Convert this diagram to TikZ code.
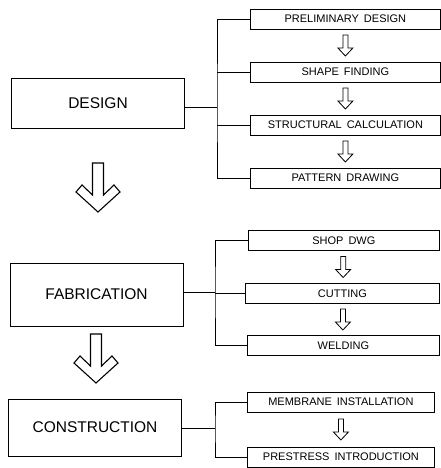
\documentclass[tikz,border=0pt]{standalone}
\usepackage{fontspec}
\setmainfont{Liberation Sans}
\usetikzlibrary{calc}
\newcommand\widespace{\spaceskip=5pt\relax}

\begin{document}
\begin{tikzpicture}[x=1pt, y=-1pt, line width=0.8pt,
            stage/.style = {draw, line width=1pt, minimum width=173pt,
                font=\fontsize{15.5}{18}\selectfont},
            task/.style = {draw, anchor=west, minimum height=20pt,
                inner sep=0pt, font=\fontsize{11}{13}\selectfont,
                execute at begin node=\widespace},
            smallarrow/.pic = {\draw (-2.5,-10.5) -- (-2.5,2.5) -- (-7.5,2.5) -- (0,10.5)
                -- (7.5,2.5) -- (2.5,2.5) -- (2.5,-10.5) -- cycle;},
            bigarrow/.pic = {\draw[line width=1.1pt] (-5.5,-49) -- (-5.5,-17) -- (-16,-27)
                -- (-22,-20) -- (0,0) -- (22,-20) -- (16,-27) -- (5.5,-17) -- (5.5,-49) -- cycle;}]
            \useasboundingbox (0,0) rectangle (441,468);
            \node[stage, minimum height=49pt] (design) at (98,103.5) {DESIGN};
            \node[stage, minimum height=63pt] (fabrication) at (96.5,294.5) {FABRICATION};
            \node[stage, minimum height=57pt] (construction) at (95,427.5) {CONSTRUCTION};

            \node[task, minimum width=190pt] (d1) at (250,19) {PRELIMINARY DESIGN};
            \node[task, minimum width=190pt] (d2) at (250,72) {SHAPE FINDING};
            \node[task, minimum width=190pt] (d3) at (250,125) {STRUCTURAL CALCULATION};
            \node[task, minimum width=190pt] (d4) at (250,178) {PATTERN DRAWING};
            \node[task, minimum width=191pt] (f1) at (248,240.5) {SHOP DWG};
            \node[task, minimum width=194pt] (f2) at (245,293.5) {CUTTING};
            \node[task, minimum width=192pt] (f3) at (247,345.5) {WELDING};
            \node[task, minimum width=187pt] (c1) at (247,402) {MEMBRANE INSTALLATION};
            \node[task, minimum width=187pt] (c2) at (247,457) {PRESTRESS INTRODUCTION};

            \coordinate (dj) at (217,107);
            \coordinate (fj) at (215,292);
            \coordinate (cj) at (215,428);
            \draw (design.east |- dj) -- (dj);
            \draw (fabrication.east |- fj) -- (fj);
            \draw (construction.east |- cj) -- (cj);
            \draw (d1.west) -| (dj) |- (d4.west);
            \draw (f1.west) -| (fj) |- (f3.west);
            \draw (c1.west) -| (cj) |- (c2.west);
            \foreach \t/\j in {d2/dj, d3/dj, f2/fj}
                \draw (\t.west) -- (\t.west -| \j);

            \foreach \a/\b in {d1/d2, d2/d3, d3/d4, f1/f2, f2/f3, c1/c2}
                \pic at ($(\a.south)!.5!(\b.north)$) {smallarrow};
            \pic at (98,212) {bigarrow};
            \pic at (96,383) {bigarrow};
        \end{tikzpicture}
\end{document}
